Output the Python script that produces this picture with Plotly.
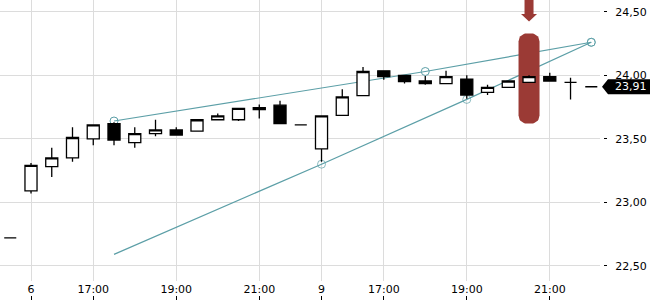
import numpy as np
import plotly.graph_objects as go

# ---------------- data ----------------
times = ["5 22:00",
         "6 15:30", "6 16:00", "6 16:30", "6 17:00", "6 17:30", "6 18:00", "6 18:30",
         "6 19:00", "6 19:30", "6 20:00", "6 20:30", "6 21:00", "6 21:30", "6 22:00",
         "9 15:30", "9 16:00", "9 16:30", "9 17:00", "9 17:30", "9 18:00", "9 18:30",
         "9 19:00", "9 19:30", "9 20:00", "9 20:30", "9 21:00", "9 21:30", "9 22:00"]
opens = [22.72, 23.09, 23.28, 23.35, 23.50, 23.62, 23.47, 23.54, 23.57, 23.56, 23.65, 23.65,
         23.745, 23.765, 23.61, 23.42, 23.685, 23.84, 24.035, 24.00, 23.955, 23.935, 23.97,
         23.865, 23.905, 23.945, 23.99, 23.945, 23.91]
highs = [22.72, 23.31, 23.43, 23.59, 23.61, 23.63, 23.59, 23.65, 23.59, 23.65, 23.70, 23.74,
         23.77, 23.80, 23.61, 23.68, 23.89, 24.065, 24.04, 24.00, 23.995, 24.035, 24.00,
         23.925, 23.955, 24.00, 24.02, 23.98, 23.91]
lows = [22.72, 23.07, 23.20, 23.32, 23.45, 23.45, 23.43, 23.52, 23.53, 23.56, 23.65, 23.64,
        23.66, 23.62, 23.61, 23.32, 23.685, 23.84, 23.965, 23.935, 23.925, 23.935, 23.815,
        23.845, 23.905, 23.945, 23.955, 23.81, 23.91]
closes = [22.72, 23.29, 23.35, 23.51, 23.61, 23.49, 23.54, 23.57, 23.53, 23.65, 23.68, 23.74,
          23.73, 23.62, 23.61, 23.68, 23.83, 24.03, 23.99, 23.95, 23.935, 23.99, 23.845,
          23.905, 23.955, 23.99, 23.955, 23.945, 23.91]

tick_times = ["6 15:30", "6 17:00", "6 19:00", "6 21:00", "9 15:30", "9 17:00", "9 19:00", "9 21:00"]
tick_labels = ["6", "17:00", "19:00", "21:00", "9", "17:00", "19:00", "21:00"]

trend1_times = ["6 17:30", "9 18:00", "9 22:00"]
trend1_values = [23.64, 24.03, 24.26]
trend2_times = ["6 17:30", "9 15:30", "9 19:00", "9 22:00"]
trend2_values = [22.59, 23.30, 23.81, 24.26]
trend2_markers = [False, True, True, True]

highlight_time = "9 20:30"
highlight_top = 24.33
highlight_bottom = 23.62

last_price = 23.91
y_ticks = [22.5, 23.0, 23.5, 24.0, 24.5]

# ---------------- geometry ----------------
W, H = 650, 300
M_L, M_R, M_T, M_B = 0, 47, 0, 5
PLOT_W = 600
PLOT_H = 281
paper_w = W - M_L - M_R
paper_h = H - M_T - M_B
x_range = [-0.494, 28.42]
y_range = [22.380, 24.593]
px_per_x = PLOT_W / (x_range[1] - x_range[0])
px_per_y = PLOT_H / (y_range[1] - y_range[0])

idx = {t: i for i, t in enumerate(times)}
xs = [idx[t] for t in times]

TEAL = "#5c9fa7"
RED = "#9b3a35"
GRID = "#dcdcdc"
FONT = "DejaVu Sans"

fig = go.Figure()

# trend lines (main subplot, below highlight and candles)
fig.add_trace(go.Scatter(
    x=[idx[t] for t in trend2_times], y=trend2_values, mode="lines+markers",
    line=dict(color=TEAL, width=1.2),
    marker=dict(symbol="circle-open", size=[8 if m else 0 for m in trend2_markers],
                color=TEAL, line=dict(width=1)),
    hoverinfo="skip", showlegend=False))
fig.add_trace(go.Scatter(
    x=[idx[t] for t in trend1_times], y=trend1_values, mode="lines+markers",
    line=dict(color=TEAL, width=1.2),
    marker=dict(symbol="circle-open", size=8, color=TEAL, line=dict(width=1)),
    hoverinfo="skip", showlegend=False))

# highlight: rounded rectangle around the highlighted candle
hx = idx[highlight_time]
half_w = 10.5 / px_per_x
rad = 8.0
rx, ry = rad / px_per_x, rad / px_per_y
xl, xr = hx - half_w, hx + half_w
corners = [(xr - rx, highlight_top - ry, 0, 90), (xl + rx, highlight_top - ry, 90, 180),
           (xl + rx, highlight_bottom + ry, 180, 270), (xr - rx, highlight_bottom + ry, 270, 360)]
px_, py_ = [], []
for cx, cy, a0, a1 in corners:
    a = np.radians(np.linspace(a0, a1, 10))
    px_ += list(cx + rx * np.cos(a))
    py_ += list(cy + ry * np.sin(a))
px_.append(px_[0]); py_.append(py_[0])
fig.add_trace(go.Scatter(x=px_, y=py_, mode="lines", fill="toself", fillcolor=RED,
                         line=dict(width=0, color=RED), hoverinfo="skip", showlegend=False))

# arrow above highlight (pixel offsets relative to tip)
tip_y = highlight_top + 12 / px_per_y
shaft_y = tip_y + 7.5 / px_per_y
top_y = tip_y + 40 / px_per_y
sw, hw = 4.5 / px_per_x, 8 / px_per_x
ax_ = [hx - sw, hx + sw, hx + sw, hx + hw, hx, hx - hw, hx - sw, hx - sw]
ay_ = [top_y, top_y, shaft_y, shaft_y, tip_y, shaft_y, shaft_y, top_y]
fig.add_trace(go.Scatter(x=ax_, y=ay_, mode="lines", fill="toself", fillcolor=RED,
                         line=dict(width=0, color=RED), hoverinfo="skip", showlegend=False))

# candles on overlay axes so they sit above lines/highlight
fig.add_trace(go.Candlestick(
    x=xs, open=opens, high=highs, low=lows, close=closes,
    xaxis="x2", yaxis="y2",
    increasing=dict(line=dict(color="black", width=1.3), fillcolor="white"),
    decreasing=dict(line=dict(color="black", width=1.3), fillcolor="black"),
    whiskerwidth=0, hoverinfo="skip", showlegend=False))

tickvals = [idx[t] for t in tick_times]

fig.update_layout(
    width=W, height=H,
    margin=dict(l=M_L, r=M_R, t=M_T, b=M_B),
    paper_bgcolor="white", plot_bgcolor="white",
    separators=",.",
    font=dict(family=FONT, size=11, color="black"),
    boxgap=0.17, boxgroupgap=0.3,
    xaxis=dict(domain=[0, PLOT_W / paper_w], range=x_range, tickvals=tickvals,
               ticktext=tick_labels, ticks="", showgrid=True, gridcolor=GRID, gridwidth=1,
               zeroline=False, showline=False, anchor="y", rangeslider=dict(visible=False),
               tickfont=dict(family=FONT, size=11, color="black")),
    xaxis2=dict(overlaying="x", range=x_range, anchor="free", position=0,
                tickvals=tickvals, ticks="outside", ticklen=5, tickcolor="black",
                showticklabels=False, showgrid=False, zeroline=False, showline=False,
                rangeslider=dict(visible=False)),
    yaxis=dict(domain=[(paper_h - PLOT_H) / paper_h, 1], range=y_range, side="right",
               anchor="free", position=1, tickvals=y_ticks, tickformat=".2f",
               ticks="outside", ticklen=3, tickcolor="black", showgrid=True,
               gridcolor=GRID, gridwidth=1, zeroline=False, showline=False,
               ticklabelstandoff=6,
               tickfont=dict(family=FONT, size=11, color="black")),
    yaxis2=dict(overlaying="y", range=y_range, visible=False, anchor="x2"),
)

# last price tag
tip = 1.0 - 1 / paper_w
body_l = 1.0 + 5 / paper_w
body_r = W / paper_w + 0.01
hh = 7.5 / px_per_y
fig.add_shape(type="path", xref="paper", yref="y", layer="above",
              path=(f"M {tip},{last_price} L {body_l},{last_price + hh} "
                    f"L {body_r},{last_price + hh} L {body_r},{last_price - hh} "
                    f"L {body_l},{last_price - hh} Z"),
              fillcolor="black", line=dict(width=0))
fig.add_annotation(xref="paper", yref="y", x=1.0 + 10 / paper_w, y=last_price,
                   xanchor="left", yanchor="middle", showarrow=False,
                   text=f"{last_price:.2f}".replace(".", ","),
                   font=dict(family=FONT, size=11, color="white"))

fig.write_html("out.html")
